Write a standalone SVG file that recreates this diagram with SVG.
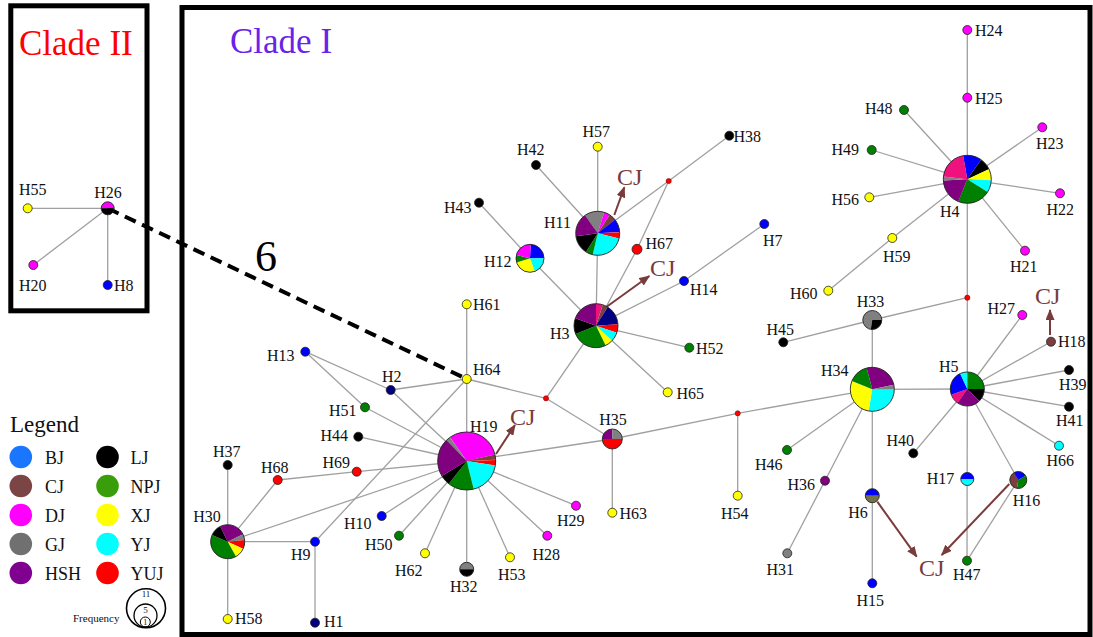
<svg xmlns="http://www.w3.org/2000/svg" width="1093" height="637" viewBox="0 0 1093 637">
<style>
.lb{font-family:"Liberation Serif","Times New Roman",serif;font-size:16px;fill:#111}
.cj{font-family:"Liberation Serif","Times New Roman",serif;font-size:24px;fill:#7a3b3b}
.lg{font-family:"Liberation Serif","Times New Roman",serif;font-size:18px;fill:#111}
.ln{stroke:#a0a0a0;stroke-width:1.3;fill:none}
.ar{stroke:#7a3b3b;stroke-width:2;fill:none;marker-end:url(#ah)}
.nd{fill:currentColor;stroke:#222;stroke-width:.8}
.md{fill:#ff0000;stroke:#600;stroke-width:.5}
.sl{fill:none;stroke:currentColor}
.ol{fill:none;stroke:#222;stroke-width:.9}
.box{fill:none;stroke:#000;stroke-width:5}
.BJ{color:#0000ff}.NV{color:#000080}.CJ{color:#7b3f3f}.DJ{color:#ff00ff}.PK{color:#f0107e}.GJ{color:#808080}
.HSH{color:#800080}.LJ{color:#000000}.NPJ{color:#008000}.XJ{color:#ffff00}.YJ{color:#00ffff}.YUJ{color:#ff0000}.OL{color:#74744a}
</style>
<defs>
<marker id="ah" markerUnits="userSpaceOnUse" markerWidth="11" markerHeight="9" refX="10" refY="4.5" orient="auto">
<path d="M0,0 L11,4.5 L0,9 Z" fill="#7a3b3b"/>
</marker>
</defs>
<rect width="1093" height="637" fill="#fff"/>

<g id="frames">
<rect class="box" x="10.8" y="5.8" width="136.2" height="305"/>
<rect class="box" x="182" y="7.5" width="908" height="627"/>
<text x="19" y="55" font-family="Liberation Serif, serif" font-size="35" fill="#ff0000">Clade II</text>
<text x="230" y="53" font-family="Liberation Serif, serif" font-size="35" fill="#6a22e8">Clade I</text>
</g>

<g id="connectors">
<line class="ln" x1="27.7" y1="208.3" x2="107.7" y2="208.3"/>
<line class="ln" x1="107.7" y1="208.3" x2="33.3" y2="265"/>
<line class="ln" x1="107.7" y1="208.3" x2="107.7" y2="285"/>
<line class="ln" x1="466.7" y1="304.3" x2="466.7" y2="379"/>
<line class="ln" x1="466.7" y1="379" x2="466.7" y2="461"/>
<line class="ln" x1="466.7" y1="379" x2="390.7" y2="390"/>
<line class="ln" x1="466.7" y1="379" x2="315" y2="541.7"/>
<line class="ln" x1="466.7" y1="379" x2="546" y2="398.3"/>
<line class="ln" x1="546" y1="398.3" x2="596" y2="325.7"/>
<line class="ln" x1="546" y1="398.3" x2="612.3" y2="439"/>
<line class="ln" x1="305.3" y1="351.7" x2="390.7" y2="390"/>
<line class="ln" x1="305.3" y1="351.7" x2="365" y2="407.3"/>
<line class="ln" x1="390.7" y1="390" x2="466.7" y2="461"/>
<line class="ln" x1="365" y1="407.3" x2="466.7" y2="461"/>
<line class="ln" x1="358.3" y1="436.7" x2="466.7" y2="461"/>
<line class="ln" x1="277.7" y1="480" x2="356.7" y2="471.7"/>
<line class="ln" x1="356.7" y1="471.7" x2="466.7" y2="461"/>
<line class="ln" x1="277.7" y1="480" x2="227.7" y2="541.7"/>
<line class="ln" x1="227.7" y1="541.7" x2="466.7" y2="461"/>
<line class="ln" x1="227.7" y1="541.7" x2="315" y2="541.7"/>
<line class="ln" x1="315" y1="541.7" x2="315" y2="622.7"/>
<line class="ln" x1="227.7" y1="541.7" x2="227.7" y2="465"/>
<line class="ln" x1="227.7" y1="541.7" x2="227.7" y2="619"/>
<line class="ln" x1="466.7" y1="461" x2="381.7" y2="516"/>
<line class="ln" x1="466.7" y1="461" x2="399" y2="535.7"/>
<line class="ln" x1="466.7" y1="461" x2="425" y2="553.3"/>
<line class="ln" x1="466.7" y1="461" x2="466.7" y2="569.3"/>
<line class="ln" x1="466.7" y1="461" x2="510" y2="557.3"/>
<line class="ln" x1="466.7" y1="461" x2="547.3" y2="535.7"/>
<line class="ln" x1="466.7" y1="461" x2="576" y2="505.7"/>
<line class="ln" x1="466.7" y1="461" x2="612.3" y2="439"/>
<line class="ln" x1="612.3" y1="439" x2="612.3" y2="512.7"/>
<line class="ln" x1="612.3" y1="439" x2="737.7" y2="413.3"/>
<line class="ln" x1="737.7" y1="413.3" x2="737.7" y2="495.7"/>
<line class="ln" x1="737.7" y1="413.3" x2="872.3" y2="389.3"/>
<line class="ln" x1="596" y1="325.7" x2="530" y2="258.3"/>
<line class="ln" x1="530" y1="258.3" x2="479" y2="202.7"/>
<line class="ln" x1="596" y1="325.7" x2="597.7" y2="233.3"/>
<line class="ln" x1="597.7" y1="233.3" x2="597.7" y2="146.7"/>
<line class="ln" x1="597.7" y1="233.3" x2="536" y2="165"/>
<line class="ln" x1="597.7" y1="233.3" x2="668.7" y2="181"/>
<line class="ln" x1="668.7" y1="181" x2="729.3" y2="135.7"/>
<line class="ln" x1="668.7" y1="181" x2="637" y2="249.3"/>
<line class="ln" x1="637" y1="249.3" x2="596" y2="325.7"/>
<line class="ln" x1="596" y1="325.7" x2="684" y2="281"/>
<line class="ln" x1="684" y1="281" x2="764.3" y2="224"/>
<line class="ln" x1="596" y1="325.7" x2="689.3" y2="347.7"/>
<line class="ln" x1="596" y1="325.7" x2="667.7" y2="392.3"/>
<line class="ln" x1="967.3" y1="30" x2="967.3" y2="179.3"/>
<line class="ln" x1="967.3" y1="179.3" x2="904" y2="110"/>
<line class="ln" x1="967.3" y1="179.3" x2="871.7" y2="150"/>
<line class="ln" x1="967.3" y1="179.3" x2="869.3" y2="197.3"/>
<line class="ln" x1="967.3" y1="179.3" x2="1042.3" y2="127.3"/>
<line class="ln" x1="967.3" y1="179.3" x2="1060" y2="193.3"/>
<line class="ln" x1="967.3" y1="179.3" x2="1025" y2="250.7"/>
<line class="ln" x1="967.3" y1="179.3" x2="892.3" y2="238"/>
<line class="ln" x1="892.3" y1="238" x2="828.3" y2="290.7"/>
<line class="ln" x1="967.3" y1="179.3" x2="967.3" y2="389"/>
<line class="ln" x1="967.3" y1="297.7" x2="872.3" y2="320"/>
<line class="ln" x1="872.3" y1="320" x2="783.3" y2="342.3"/>
<line class="ln" x1="872.3" y1="320" x2="872.3" y2="389.3"/>
<line class="ln" x1="872.3" y1="389.3" x2="967.3" y2="389"/>
<line class="ln" x1="872.3" y1="389.3" x2="787" y2="450"/>
<line class="ln" x1="872.3" y1="389.3" x2="825" y2="480.7"/>
<line class="ln" x1="825" y1="480.7" x2="787.3" y2="553.3"/>
<line class="ln" x1="872.3" y1="389.3" x2="872.3" y2="583.3"/>
<line class="ln" x1="967.3" y1="389" x2="1022.3" y2="315"/>
<line class="ln" x1="967.3" y1="389" x2="1051" y2="341.7"/>
<line class="ln" x1="967.3" y1="389" x2="1069" y2="370"/>
<line class="ln" x1="967.3" y1="389" x2="1069" y2="406.7"/>
<line class="ln" x1="967.3" y1="389" x2="1059" y2="445.7"/>
<line class="ln" x1="967.3" y1="389" x2="913.3" y2="453.3"/>
<line class="ln" x1="967.3" y1="389" x2="1018.3" y2="480"/>
<line class="ln" x1="967.3" y1="389" x2="967" y2="560.7"/>
<line class="ln" x1="1018.3" y1="480" x2="967" y2="560.7"/>
<line x1="107.7" y1="208.3" x2="466.7" y2="379" stroke="#000" stroke-width="4" stroke-dasharray="12 7"/>
<text x="266" y="271" text-anchor="middle" font-family="Liberation Serif, serif" font-size="44" fill="#000">6</text>
<line class="ar" x1="496" y1="454" x2="515" y2="425"/>
<line class="ar" x1="614.3" y1="215" x2="624.3" y2="187.3"/>
<line class="ar" x1="606.7" y1="306.7" x2="649.3" y2="276"/>
<line class="ar" x1="1050" y1="335" x2="1050" y2="310"/>
<line class="ar" x1="877.3" y1="501.7" x2="916.7" y2="556.7"/>
<line class="ar" x1="1009.3" y1="484" x2="941.7" y2="555"/>
<text class="cj" x="510" y="425">CJ</text>
<text class="cj" x="617" y="185">CJ</text>
<text class="cj" x="650" y="276">CJ</text>
<text class="cj" x="1035" y="304">CJ</text>
<text class="cj" x="919" y="576">CJ</text>
</g>

<g id="medians">
<circle class="md" cx="546" cy="398.3" r="2.6"/>
<circle class="md" cx="737.7" cy="413.3" r="2.6"/>
<circle class="md" cx="668.7" cy="181" r="2.6"/>
<circle class="md" cx="967.3" cy="297.7" r="2.6"/>
</g>

<!-- pie nodes -->
<g id="H19" transform="translate(466.7,461)" stroke-width="29">
<circle class="sl DJ" r="14.5" pathLength="360" stroke-dasharray="112 360" transform="rotate(235)"/>
<circle class="sl CJ" r="14.5" pathLength="360" stroke-dasharray="11 360" transform="rotate(-13)"/>
<circle class="sl YUJ" r="14.5" pathLength="360" stroke-dasharray="11 360" transform="rotate(-2)"/>
<circle class="sl YJ" r="14.5" pathLength="360" stroke-dasharray="67 360" transform="rotate(9)"/>
<circle class="sl NPJ" r="14.5" pathLength="360" stroke-dasharray="52 360" transform="rotate(76)"/>
<circle class="sl LJ" r="14.5" pathLength="360" stroke-dasharray="21 360" transform="rotate(128)"/>
<circle class="sl HSH" r="14.5" pathLength="360" stroke-dasharray="77 360" transform="rotate(149)"/>
<circle class="sl GJ" r="14.5" pathLength="360" stroke-dasharray="9 360" transform="rotate(226)"/>
<circle class="ol" r="29"/>
<text class="lb" x="3.3" y="-29.3">H19</text>
</g>
<g id="H11" transform="translate(597.7,233.3)" stroke-width="22">
<circle class="sl GJ" r="11" pathLength="360" stroke-dasharray="52 360" transform="rotate(235)"/>
<circle class="sl DJ" r="11" pathLength="360" stroke-dasharray="16 360" transform="rotate(-73)"/>
<circle class="sl CJ" r="11" pathLength="360" stroke-dasharray="19 360" transform="rotate(-57)"/>
<circle class="sl BJ" r="11" pathLength="360" stroke-dasharray="35 360" transform="rotate(-38)"/>
<circle class="sl YUJ" r="11" pathLength="360" stroke-dasharray="17 360" transform="rotate(-3)"/>
<circle class="sl YJ" r="11" pathLength="360" stroke-dasharray="89 360" transform="rotate(14)"/>
<circle class="sl NPJ" r="11" pathLength="360" stroke-dasharray="19 360" transform="rotate(103)"/>
<circle class="sl LJ" r="11" pathLength="360" stroke-dasharray="50 360" transform="rotate(122)"/>
<circle class="sl HSH" r="11" pathLength="360" stroke-dasharray="63 360" transform="rotate(172)"/>
<circle class="ol" r="22"/>
<text class="lb" x="-53.7" y="-5">H11</text>
</g>
<g id="H3" transform="translate(596,325.7)" stroke-width="22">
<circle class="sl PK" r="11" pathLength="360" stroke-dasharray="18 360" transform="rotate(-90)"/>
<circle class="sl CJ" r="11" pathLength="360" stroke-dasharray="14 360" transform="rotate(-72)"/>
<circle class="sl NV" r="11" pathLength="360" stroke-dasharray="54 360" transform="rotate(-58)"/>
<circle class="sl YUJ" r="11" pathLength="360" stroke-dasharray="23 360" transform="rotate(-4)"/>
<circle class="sl YJ" r="11" pathLength="360" stroke-dasharray="23 360" transform="rotate(19)"/>
<circle class="sl XJ" r="11" pathLength="360" stroke-dasharray="22 360" transform="rotate(42)"/>
<circle class="sl NPJ" r="11" pathLength="360" stroke-dasharray="94 360" transform="rotate(64)"/>
<circle class="sl LJ" r="11" pathLength="360" stroke-dasharray="42 360" transform="rotate(158)"/>
<circle class="sl HSH" r="11" pathLength="360" stroke-dasharray="70 360" transform="rotate(200)"/>
<circle class="ol" r="22"/>
<text class="lb" x="-46" y="13.6">H3</text>
</g>
<g id="H12" transform="translate(530,258.3)" stroke-width="14">
<circle class="sl BJ" r="7" pathLength="360" stroke-dasharray="87 360" transform="rotate(-87)"/>
<circle class="sl YJ" r="7" pathLength="360" stroke-dasharray="70 360" transform="rotate(0)"/>
<circle class="sl XJ" r="7" pathLength="360" stroke-dasharray="93 360" transform="rotate(70)"/>
<circle class="sl NPJ" r="7" pathLength="360" stroke-dasharray="31 360" transform="rotate(163)"/>
<circle class="sl DJ" r="7" pathLength="360" stroke-dasharray="79 360" transform="rotate(194)"/>
<circle class="ol" r="14"/>
<text class="lb" x="-46" y="8.4">H12</text>
</g>
<g id="H4" transform="translate(967.3,179.3)" stroke-width="24">
<circle class="sl BJ" r="12" pathLength="360" stroke-dasharray="45 360" transform="rotate(260)"/>
<circle class="sl LJ" r="12" pathLength="360" stroke-dasharray="30 360" transform="rotate(-55)"/>
<circle class="sl XJ" r="12" pathLength="360" stroke-dasharray="27 360" transform="rotate(-25)"/>
<circle class="sl YJ" r="12" pathLength="360" stroke-dasharray="30 360" transform="rotate(2)"/>
<circle class="sl NPJ" r="12" pathLength="360" stroke-dasharray="80 360" transform="rotate(32)"/>
<circle class="sl HSH" r="12" pathLength="360" stroke-dasharray="65 360" transform="rotate(112)"/>
<circle class="sl GJ" r="12" pathLength="360" stroke-dasharray="10 360" transform="rotate(177)"/>
<circle class="sl PK" r="12" pathLength="360" stroke-dasharray="73 360" transform="rotate(187)"/>
<circle class="ol" r="24"/>
<text class="lb" x="-27.3" y="37.4">H4</text>
</g>
<g id="H34" transform="translate(872.3,389.3)" stroke-width="22">
<circle class="sl HSH" r="11" pathLength="360" stroke-dasharray="93 360" transform="rotate(255)"/>
<circle class="sl GJ" r="11" pathLength="360" stroke-dasharray="12 360" transform="rotate(-12)"/>
<circle class="sl YJ" r="11" pathLength="360" stroke-dasharray="100 360" transform="rotate(0)"/>
<circle class="sl XJ" r="11" pathLength="360" stroke-dasharray="102 360" transform="rotate(100)"/>
<circle class="sl NPJ" r="11" pathLength="360" stroke-dasharray="53 360" transform="rotate(202)"/>
<circle class="ol" r="22"/>
<text class="lb" x="-51.3" y="-13.6">H34</text>
</g>
<g id="H5" transform="translate(967.3,389)" stroke-width="17">
<circle class="sl NPJ" r="8.5" pathLength="360" stroke-dasharray="90 360" transform="rotate(-90)"/>
<circle class="sl LJ" r="8.5" pathLength="360" stroke-dasharray="45 360" transform="rotate(0)"/>
<circle class="sl HSH" r="8.5" pathLength="360" stroke-dasharray="80 360" transform="rotate(45)"/>
<circle class="sl PK" r="8.5" pathLength="360" stroke-dasharray="35 360" transform="rotate(125)"/>
<circle class="sl BJ" r="8.5" pathLength="360" stroke-dasharray="85 360" transform="rotate(160)"/>
<circle class="sl YJ" r="8.5" pathLength="360" stroke-dasharray="25 360" transform="rotate(245)"/>
<circle class="ol" r="17"/>
<text class="lb" x="-28.3" y="-16.7">H5</text>
</g>
<g id="H30" transform="translate(227.7,541.7)" stroke-width="17">
<circle class="sl HSH" r="8.5" pathLength="360" stroke-dasharray="90 360" transform="rotate(244)"/>
<circle class="sl GJ" r="8.5" pathLength="360" stroke-dasharray="20 360" transform="rotate(-26)"/>
<circle class="sl YUJ" r="8.5" pathLength="360" stroke-dasharray="31 360" transform="rotate(-6)"/>
<circle class="sl XJ" r="8.5" pathLength="360" stroke-dasharray="36 360" transform="rotate(25)"/>
<circle class="sl NPJ" r="8.5" pathLength="360" stroke-dasharray="142 360" transform="rotate(61)"/>
<circle class="sl LJ" r="8.5" pathLength="360" stroke-dasharray="41 360" transform="rotate(203)"/>
<circle class="ol" r="17"/>
<text class="lb" x="-34.4" y="-20">H30</text>
</g>
<g id="H35" transform="translate(612.3,439)" stroke-width="10">
<circle class="sl HSH" r="5" pathLength="360" stroke-dasharray="90 360" transform="rotate(180)"/>
<circle class="sl GJ" r="5" pathLength="360" stroke-dasharray="90 360" transform="rotate(-90)"/>
<circle class="sl YUJ" r="5" pathLength="360" stroke-dasharray="180 360" transform="rotate(0)"/>
<circle class="ol" r="10"/>
<text class="lb" x="-13" y="-14">H35</text>
</g>
<g id="H26" transform="translate(107.7,208.3)" stroke-width="6.5">
<circle class="sl DJ" r="3.25" pathLength="360" stroke-dasharray="180 360" transform="rotate(180)"/>
<circle class="sl LJ" r="3.25" pathLength="360" stroke-dasharray="180 360" transform="rotate(0)"/>
<circle class="ol" r="6.5"/>
<text class="lb" x="-13.4" y="-10.6">H26</text>
</g>
<g id="H32" transform="translate(466.7,569.3)" stroke-width="7">
<circle class="sl GJ" r="3.5" pathLength="360" stroke-dasharray="180 360" transform="rotate(180)"/>
<circle class="sl LJ" r="3.5" pathLength="360" stroke-dasharray="180 360" transform="rotate(0)"/>
<circle class="ol" r="7"/>
<text class="lb" x="-16.7" y="22.4">H32</text>
</g>
<g id="H33" transform="translate(872.3,320)" stroke-width="9.5">
<circle class="sl GJ" r="4.75" pathLength="360" stroke-dasharray="260 360" transform="rotate(100)"/>
<circle class="sl LJ" r="4.75" pathLength="360" stroke-dasharray="100 360" transform="rotate(0)"/>
<circle class="ol" r="9.5"/>
<text class="lb" x="-15.6" y="-13.3">H33</text>
</g>
<g id="H17" transform="translate(967.3,479)" stroke-width="6.5">
<circle class="sl BJ" r="3.25" pathLength="360" stroke-dasharray="180 360" transform="rotate(180)"/>
<circle class="sl YJ" r="3.25" pathLength="360" stroke-dasharray="180 360" transform="rotate(0)"/>
<circle class="ol" r="6.5"/>
<text class="lb" x="-40.6" y="5">H17</text>
</g>
<g id="H6" transform="translate(872.3,495.7)" stroke-width="7">
<circle class="sl BJ" r="3.5" pathLength="360" stroke-dasharray="180 360" transform="rotate(180)"/>
<circle class="sl OL" r="3.5" pathLength="360" stroke-dasharray="180 360" transform="rotate(0)"/>
<circle class="ol" r="7"/>
<text class="lb" x="-24" y="22.6">H6</text>
</g>
<g id="H16" transform="translate(1018.3,480)" stroke-width="8.5">
<circle class="sl CJ" r="4.25" pathLength="360" stroke-dasharray="140 360" transform="rotate(100)"/>
<circle class="sl BJ" r="4.25" pathLength="360" stroke-dasharray="90 360" transform="rotate(240)"/>
<circle class="sl NPJ" r="4.25" pathLength="360" stroke-dasharray="130 360" transform="rotate(-30)"/>
<circle class="ol" r="8.5"/>
<text class="lb" x="-5.6" y="25.7">H16</text>
</g>

<!-- single-colour nodes -->
<g id="H55"><circle class="nd XJ" cx="27.7" cy="208.3" r="4.5"/><text class="lb" x="19" y="195">H55</text></g>
<g id="H20"><circle class="nd DJ" cx="33.3" cy="265" r="4.5"/><text class="lb" x="19" y="291">H20</text></g>
<g id="H8"><circle class="nd BJ" cx="107.7" cy="285" r="4.5"/><text class="lb" x="114" y="291">H8</text></g>
<g id="H61"><circle class="nd XJ" cx="466.7" cy="304.3" r="4.5"/><text class="lb" x="473" y="310">H61</text></g>
<g id="H13"><circle class="nd BJ" cx="305.3" cy="351.7" r="4.5"/><text class="lb" x="267" y="361">H13</text></g>
<g id="H64"><circle class="nd XJ" cx="466.7" cy="379" r="4.5"/><text class="lb" x="473" y="375">H64</text></g>
<g id="H2"><circle class="nd NV" cx="390.7" cy="390" r="4.5"/><text class="lb" x="382" y="381.5">H2</text></g>
<g id="H51"><circle class="nd NPJ" cx="365" cy="407.3" r="4.5"/><text class="lb" x="329" y="416">H51</text></g>
<g id="H44"><circle class="nd LJ" cx="358.3" cy="436.7" r="4.5"/><text class="lb" x="320.5" y="441">H44</text></g>
<g id="H37"><circle class="nd LJ" cx="227.7" cy="465" r="4.5"/><text class="lb" x="213" y="456.5">H37</text></g>
<g id="H68"><circle class="nd YUJ" cx="277.7" cy="480" r="4.5"/><text class="lb" x="261" y="473">H68</text></g>
<g id="H69"><circle class="nd YUJ" cx="356.7" cy="471.7" r="4.5"/><text class="lb" x="322.5" y="468">H69</text></g>
<g id="H9"><circle class="nd BJ" cx="315" cy="541.7" r="4.5"/><text class="lb" x="291" y="560">H9</text></g>
<g id="H10"><circle class="nd BJ" cx="381.7" cy="516" r="4.5"/><text class="lb" x="344" y="529">H10</text></g>
<g id="H50"><circle class="nd NPJ" cx="399" cy="535.7" r="4.5"/><text class="lb" x="365" y="550">H50</text></g>
<g id="H62"><circle class="nd XJ" cx="425" cy="553.3" r="4.5"/><text class="lb" x="395" y="576">H62</text></g>
<g id="H58"><circle class="nd XJ" cx="227.7" cy="619" r="4.5"/><text class="lb" x="235" y="624">H58</text></g>
<g id="H1"><circle class="nd NV" cx="315" cy="622.7" r="4.5"/><text class="lb" x="324" y="627">H1</text></g>
<g id="H53"><circle class="nd XJ" cx="510" cy="557.3" r="4.5"/><text class="lb" x="498" y="580">H53</text></g>
<g id="H28"><circle class="nd DJ" cx="547.3" cy="535.7" r="4.5"/><text class="lb" x="532.5" y="559.5">H28</text></g>
<g id="H29"><circle class="nd DJ" cx="576" cy="505.7" r="4.5"/><text class="lb" x="557" y="525.5">H29</text></g>
<g id="H63"><circle class="nd XJ" cx="612.3" cy="512.7" r="4.5"/><text class="lb" x="619.5" y="518.5">H63</text></g>
<g id="H54"><circle class="nd XJ" cx="737.7" cy="495.7" r="4.5"/><text class="lb" x="721" y="518.5">H54</text></g>
<g id="H57"><circle class="nd XJ" cx="597.7" cy="146.7" r="4.5"/><text class="lb" x="582.5" y="136.5">H57</text></g>
<g id="H42"><circle class="nd LJ" cx="536" cy="165" r="4.5"/><text class="lb" x="517" y="155">H42</text></g>
<g id="H38"><circle class="nd LJ" cx="729.3" cy="135.7" r="4.5"/><text class="lb" x="733.5" y="141.5">H38</text></g>
<g id="H43"><circle class="nd LJ" cx="479" cy="202.7" r="4.5"/><text class="lb" x="444" y="213">H43</text></g>
<g id="H67"><circle class="nd YUJ" cx="637" cy="249.3" r="5"/><text class="lb" x="645.5" y="248.5">H67</text></g>
<g id="H14"><circle class="nd BJ" cx="684" cy="281" r="4.5"/><text class="lb" x="690" y="295">H14</text></g>
<g id="H7"><circle class="nd BJ" cx="764.3" cy="224" r="4.5"/><text class="lb" x="763" y="246">H7</text></g>
<g id="H52"><circle class="nd NPJ" cx="689.3" cy="347.7" r="4.5"/><text class="lb" x="696" y="354">H52</text></g>
<g id="H65"><circle class="nd XJ" cx="667.7" cy="392.3" r="4.5"/><text class="lb" x="676.5" y="398.5">H65</text></g>
<g id="H24"><circle class="nd DJ" cx="967.3" cy="30" r="4.5"/><text class="lb" x="975" y="36">H24</text></g>
<g id="H25"><circle class="nd DJ" cx="967.3" cy="97.7" r="4.5"/><text class="lb" x="975" y="104">H25</text></g>
<g id="H48"><circle class="nd NPJ" cx="904" cy="110" r="4.5"/><text class="lb" x="865" y="114">H48</text></g>
<g id="H49"><circle class="nd NPJ" cx="871.7" cy="150" r="4.5"/><text class="lb" x="831.5" y="155">H49</text></g>
<g id="H23"><circle class="nd DJ" cx="1042.3" cy="127.3" r="4.5"/><text class="lb" x="1036" y="149">H23</text></g>
<g id="H56"><circle class="nd XJ" cx="869.3" cy="197.3" r="4.5"/><text class="lb" x="831.5" y="205">H56</text></g>
<g id="H22"><circle class="nd DJ" cx="1060" cy="193.3" r="4.5"/><text class="lb" x="1046.5" y="214.5">H22</text></g>
<g id="H59"><circle class="nd XJ" cx="892.3" cy="238" r="4.5"/><text class="lb" x="883" y="261.5">H59</text></g>
<g id="H21"><circle class="nd DJ" cx="1025" cy="250.7" r="4.5"/><text class="lb" x="1010" y="271.5">H21</text></g>
<g id="H60"><circle class="nd XJ" cx="828.3" cy="290.7" r="4.5"/><text class="lb" x="790" y="298.5">H60</text></g>
<g id="H45"><circle class="nd LJ" cx="783.3" cy="342.3" r="4.5"/><text class="lb" x="766.5" y="335">H45</text></g>
<g id="H27"><circle class="nd DJ" cx="1022.3" cy="315" r="4.5"/><text class="lb" x="987.5" y="314">H27</text></g>
<g id="H18"><circle class="nd CJ" cx="1051" cy="341.7" r="4.5"/><text class="lb" x="1058" y="346.5">H18</text></g>
<g id="H39"><circle class="nd LJ" cx="1069" cy="370" r="4.5"/><text class="lb" x="1059" y="390">H39</text></g>
<g id="H41"><circle class="nd LJ" cx="1069" cy="406.7" r="4.5"/><text class="lb" x="1056" y="425.5">H41</text></g>
<g id="H46"><circle class="nd NPJ" cx="787" cy="450" r="4.5"/><text class="lb" x="755" y="469.5">H46</text></g>
<g id="H40"><circle class="nd LJ" cx="913.3" cy="453.3" r="4.5"/><text class="lb" x="886.5" y="445.5">H40</text></g>
<g id="H66"><circle class="nd YJ" cx="1059" cy="445.7" r="4.5"/><text class="lb" x="1046.5" y="466">H66</text></g>
<g id="H36"><circle class="nd HSH" cx="825" cy="480.7" r="4.5"/><text class="lb" x="787.5" y="490">H36</text></g>
<g id="H31"><circle class="nd GJ" cx="787.3" cy="553.3" r="4.5"/><text class="lb" x="766.5" y="575">H31</text></g>
<g id="H15"><circle class="nd BJ" cx="872.3" cy="583.3" r="4.5"/><text class="lb" x="856.5" y="606">H15</text></g>
<g id="H47"><circle class="nd NPJ" cx="967" cy="560.7" r="4.5"/><text class="lb" x="953" y="580">H47</text></g>

<g id="legend">
<text x="10" y="432" font-family="Liberation Serif, serif" font-size="23" fill="#111">Legend</text>
<circle cx="20.8" cy="457" r="11.3" fill="#1a75ff"/><text class="lg" x="45" y="463.5">BJ</text>
<circle cx="20.8" cy="486" r="11.3" fill="#7b4545"/><text class="lg" x="45" y="492.5">CJ</text>
<circle cx="20.8" cy="515" r="11.3" fill="#ff00ff"/><text class="lg" x="45" y="521.5">DJ</text>
<circle cx="20.8" cy="544" r="11.3" fill="#707070"/><text class="lg" x="45" y="550.5">GJ</text>
<circle cx="20.8" cy="573" r="11.3" fill="#800090"/><text class="lg" x="45" y="579.5">HSH</text>
<circle cx="107.5" cy="457" r="11.3" fill="#000"/><text class="lg" x="130.5" y="463.5">LJ</text>
<circle cx="107.5" cy="486" r="11.3" fill="#3a9e0a"/><text class="lg" x="130.5" y="492.5">NPJ</text>
<circle cx="107.5" cy="515" r="11.3" fill="#ffff00"/><text class="lg" x="130.5" y="521.5">XJ</text>
<circle cx="107.5" cy="544" r="11.3" fill="#00ffff"/><text class="lg" x="130.5" y="550.5">YJ</text>
<circle cx="107.5" cy="573" r="11.3" fill="#ff0000"/><text class="lg" x="130.5" y="579.5">YUJ</text>
<circle cx="146" cy="608.3" r="19.5" fill="none" stroke="#000" stroke-width="1.6"/>
<circle cx="145.5" cy="615.5" r="11.5" fill="none" stroke="#000" stroke-width="1.3"/>
<circle cx="145.3" cy="622" r="5" fill="none" stroke="#000" stroke-width="1"/>
<text x="146" y="597" text-anchor="middle" font-family="Liberation Serif, serif" font-size="9" fill="#111">11</text>
<text x="145.5" y="613" text-anchor="middle" font-family="Liberation Serif, serif" font-size="9" fill="#111">5</text>
<text x="145.3" y="625" text-anchor="middle" font-family="Liberation Serif, serif" font-size="8" fill="#111">1</text>
<text x="73" y="622" font-family="Liberation Serif, serif" font-size="11" fill="#111">Frequency</text>
</g>
</svg>
